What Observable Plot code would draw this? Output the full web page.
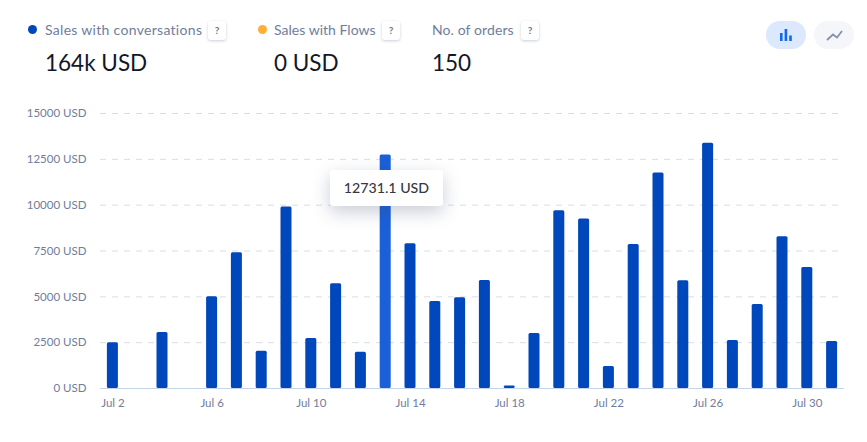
<!DOCTYPE html>
<html><head><meta charset="utf-8">
<script src="https://cdn.jsdelivr.net/npm/d3@7"></script>
<script src="https://cdn.jsdelivr.net/npm/@observablehq/plot@0.6"></script>
<style>
html,body{margin:0;padding:0;background:#fff;width:867px;height:442px;overflow:hidden;font-family:Lato,"Noto Sans",sans-serif}
#wrap{position:relative;width:867px;height:442px}
#chart{position:absolute;left:0;top:91px}
.lab{position:absolute;top:21px;font-size:14px;color:#6f7d9c;white-space:nowrap}
.val{position:absolute;top:49px;font-size:22.5px;color:#111827;white-space:nowrap}
.dot{position:absolute;top:25px;width:9px;height:9px;border-radius:50%}
.q{position:absolute;top:21px;width:18px;height:19px;border-radius:3px;background:#fff;box-shadow:0 1px 3px rgba(70,90,130,.3);font-size:10px;font-weight:700;color:#67769a;text-align:center;line-height:19px}
.btn{position:absolute;top:21px;width:40px;height:28px;border-radius:14px}
#tip{position:absolute;left:330px;top:170px;width:113px;height:36px;line-height:36px;background:#fff;border-radius:3px;text-align:center;font-size:14.2px;font-weight:500;color:#333a45;box-shadow:0 6px 18px rgba(60,75,110,.28)}
</style></head><body>
<div id="wrap">
<div class="dot" style="left:28px;background:#0047bb"></div>
<div class="lab" style="left:45px;letter-spacing:.3px">Sales with conversations</div>
<div class="q" style="left:208px">?</div>
<div class="val" style="left:45px">164k USD</div>
<div class="dot" style="left:258px;background:#ffaf37"></div>
<div class="lab" style="left:274px;letter-spacing:.02px">Sales with Flows</div>
<div class="q" style="left:382px">?</div>
<div class="val" style="left:274px">0 USD</div>
<div class="lab" style="left:432px;letter-spacing:.1px">No. of orders</div>
<div class="q" style="left:521px">?</div>
<div class="val" style="left:432px">150</div>
<div class="btn" style="left:766px;background:#dbe8fd"><svg width="40" height="28"><g fill="#1268f0"><rect x="14" y="12" width="2.6" height="8"/><rect x="18.6" y="8" width="2.6" height="12"/><rect x="23.2" y="14.5" width="2.6" height="5.5"/></g></svg></div>
<div class="btn" style="left:814px;background:#f4f6fa"><svg width="40" height="28"><path d="M13 19 L19 13.5 L23 16.5 L28 10" fill="none" stroke="#8491ad" stroke-width="1.8"/></svg></div>
<div id="chart"></div>
<div id="tip">12731.1 USD</div>
</div>
<script>
const days = d3.range(2, 32);
const sales = [2500,0,3050,0,5000,7400,2030,9900,2730,5720,1980,12731.1,7900,4750,4950,5890,130,3000,9700,9250,1200,7850,11750,5880,13380,2620,4580,8280,6600,2570];
const yTicks = [0,2500,5000,7500,10000,12500,15000];
const xTicks = [2,6,10,14,18,22,26,30];
const highlighted = 13;
const data = days.map((d,i)=>({day:d,value:sales[i]}));
const axisColor = "#6f7d9c";
const plot = Plot.plot({
  width:867, height:351, marginLeft:100, marginRight:23, marginTop:22, marginBottom:54,
  style:{fontFamily:"Lato, 'Noto Sans', sans-serif", fontSize:"11.5px", background:"transparent", color:axisColor},
  x:{type:"band", domain:days, paddingInner:0.556, paddingOuter:0.278, align:0.5, round:false, label:null},
  y:{domain:[0,15000], label:null},
  marks:[
    Plot.ruleY(yTicks.filter(t=>t>0),{stroke:"#d6dee8",strokeWidth:1,strokeDasharray:"6,6",strokeOpacity:1}),
    Plot.ruleY([0],{stroke:"#c6d4e9",strokeWidth:1.2}),
    Plot.barY(data.filter(d=>d.value>0),{x:"day",y:"value",fill:d=>d.day===highlighted?"#1a60d8":"#0047bb",rx:1.5}),
    Plot.axisY({ticks:yTicks,tickSize:0,tickPadding:14,tickFormat:d=>d+" USD",label:null,fill:axisColor,marginLeft:100}),
    Plot.axisX({ticks:xTicks,tickSize:0,tickPadding:10,tickFormat:d=>"Jul "+d,label:null,fill:axisColor})
  ],
  color:{type:"identity"}
});
document.getElementById("chart").appendChild(plot);
</script>
</body></html>
